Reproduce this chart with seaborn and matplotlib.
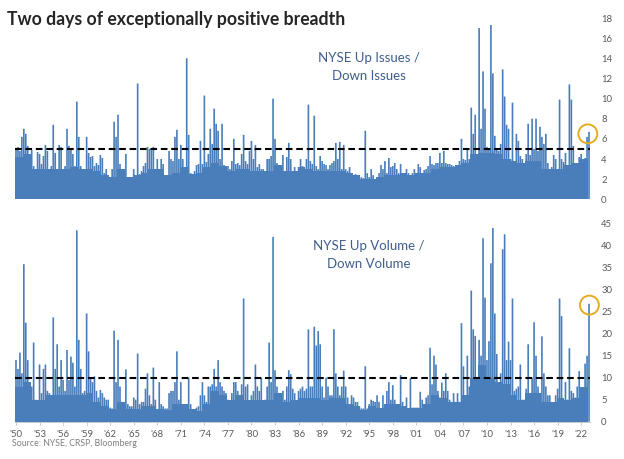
import matplotlib
matplotlib.use("Agg")
import matplotlib.pyplot as plt
import numpy as np
import pandas as pd
import seaborn as sns

W, H = 624, 459
title = "Two days of exceptionally positive breadth"
source = "Source: NYSE, CRSP, Bloomberg"
year_labels = ["'50","'53","'56","'59","'62","'65","'68","'71","'74","'77","'80","'83","'86",
               "'89","'92","'95","'98","'01","'04","'07","'10","'13","'16","'19","'22"]
issues_ticks = [0,2,4,6,8,10,12,14,16,18]
volume_ticks = [0,5,10,15,20,25,30,35,40,45]

# quarterly peaks, 1950 -> late 2022
up_issues = [
 5.0,5.2,4.8,6.2,7.0,6.5,5.3,4.2,4.9,3.3,2.3,4.7,
 4.5,3.5,4.3,5.4,4.8,2.8,3.3,7.4,4.6,3.0,5.4,5.2,
 3.0,3.3,7.0,5.3,4.9,4.5,3.3,9.7,6.2,3.3,3.0,2.8,
 6.2,4.6,4.2,4.3,3.3,3.6,3.4,4.4,4.1,2.6,3.0,2.2,
 2.0,3.0,7.7,6.2,8.4,3.5,2.4,2.2,4.5,2.1,2.0,2.2,
 3.0,2.4,11.5,2.5,2.8,3.3,3.6,5.2,5.0,5.0,5.2,3.0,
 4.0,2.9,4.0,3.5,2.2,2.4,4.8,4.0,3.8,6.2,6.9,4.0,
 5.4,4.0,2.4,14.0,6.4,2.6,2.3,2.8,3.4,3.5,5.8,3.5,
 10.3,3.7,4.5,7.0,5.5,9.0,7.5,6.8,4.0,7.5,3.4,3.0,
 3.3,3.0,3.8,6.0,3.5,3.6,3.4,4.5,6.4,3.8,3.5,4.8,
 5.8,4.0,5.4,3.2,3.5,3.0,3.0,2.8,4.0,4.0,4.3,10.0,
 6.0,3.6,2.9,3.0,4.4,2.4,4.2,5.6,4.0,2.8,3.2,2.5,
 3.2,4.0,3.3,2.8,4.0,9.4,3.8,3.5,8.3,3.3,3.0,4.3,
 3.8,3.5,3.4,3.0,3.4,3.6,3.8,5.6,4.0,5.7,3.0,5.4,
 3.0,2.8,3.2,2.5,2.2,2.5,2.2,2.0,2.2,2.1,6.8,2.6,
 2.2,3.0,2.4,2.0,2.0,2.6,3.4,3.0,3.8,2.6,4.1,3.2,
 3.3,3.6,3.0,2.6,3.5,2.4,2.0,3.0,2.6,2.4,2.6,3.0,
 1.8,3.5,3.2,2.6,2.9,3.0,3.3,4.3,3.5,3.4,3.6,3.6,
 4.6,3.6,4.8,3.6,3.5,3.5,3.4,3.3,3.2,3.0,3.8,6.0,
 4.0,3.9,4.9,4.0,9.1,6.5,8.4,4.0,17.0,7.0,12.7,9.0,
 5.2,5.0,17.3,12.5,6.3,5.0,4.8,5.5,12.9,10.2,7.4,7.0,
 4.0,9.6,3.5,6.5,5.8,4.3,4.0,3.3,4.5,7.5,4.4,8.0,
 5.0,8.0,4.8,7.2,6.2,5.5,6.5,3.6,3.0,3.2,4.4,4.0,
 2.9,9.9,4.0,3.7,4.6,3.4,11.4,9.9,5.3,3.0,3.6,4.2,
 4.5,4.0,4.1,6.2,6.7]

up_volume = [
 14,12,15.7,11,35.8,22.5,14,9,8,18,5,3.5,
 13,6.5,12,13,7,6.5,5.5,23.7,12,17.6,8,14,
 9.5,7,16.3,9.5,14.8,13.4,8,43.5,18.6,12,6.5,7,
 24.6,16,10,9,10.3,7,5.5,7.2,6.5,5.5,5,5,
 3.2,3,20.7,9,18.6,8,4.5,4,11.9,4,3.5,3.5,
 5.5,5,15.5,4,4.5,4.5,7.5,11,6,4,12.3,5,
 2.7,9,4,3.5,3,3,6.5,7,7,9,16,5,
 9,4,3,3.5,10,4,2.7,2.6,3.2,3.5,6,9,
 6,4.5,8,8,8.5,12,8,14,9,8,7,6.5,
 5,4,6.5,9,9,7,4.5,8.5,28,8,8.5,4.2,
 6,7,13,8,7,10,4,5,8,18,9,42,
 11.7,8,5,5,7,5,8,11.7,10.8,7.5,6.5,4,
 7,7.5,8,7,7.5,21,8,8,21.6,17.3,20.6,17.6,
 8,5.5,10,8,6,6,21,11,8,6,8,11.6,
 8,5.5,3.8,6,5.5,4.5,4.5,3.5,3,3,12.6,3,
 4,5,4.7,4.5,6,4.5,3,6,4,7,9,5,
 8.3,5,4,3.8,10.6,4.5,3,5.5,3,9.9,3.2,3.2,
 3.2,3.2,6.8,5,3.2,5.5,6,16.8,8.5,15,13,7,
 5.5,8.9,7,11,7,5,4,6.5,4.5,6.5,4.5,22.4,
 12.6,5,15,8,29.8,21,19.5,7,18.6,15,41.7,28.2,
 14,18.3,36,44,24.6,15.4,4,11,39.2,42.6,14,18.2,
 14,28,7,7.5,8,13,5,5,7.5,17.6,5.5,10,
 22.6,15,8,6,19.4,11,8,6,6,4.5,3.5,6,
 7.5,28,24,5,9,5,16.7,7,6.5,5.5,8,11.5,
 7.5,5.5,13.2,15,26.8]

# solid mass under the spikes, one level per calendar year 1950-2022
issues_body = [
 4.2,4.5,3.0,3.0,3.0,3.0,3.0,3.2,3.0,3.0,2.8,2.4,2.2,3.0,2.2,2.4,2.6,3.0,3.0,2.4,
 2.6,3.2,2.5,2.6,3.2,3.6,3.3,2.8,3.0,3.0,2.8,2.8,2.8,3.4,2.8,2.8,3.2,3.0,2.8,2.8,
 2.8,2.8,2.6,2.4,2.0,2.0,2.2,2.4,2.4,2.6,2.4,2.6,2.6,3.0,3.2,3.2,3.4,3.6,4.5,4.6,
 4.6,4.5,4.0,3.8,3.6,3.8,3.8,3.0,3.0,3.0,3.4,3.6,4.0]
volume_body = [
 8,9,5,5,6,6,6,6,6,6.5,4.5,3.5,3,4.5,3,3,3.5,3.5,2.8,2.6,
 4,4,3,2.5,4,7,6,5,6,5,5,5,5,6.5,4.5,5,5.5,5.5,5.5,5,
 5.5,5.5,4,3.5,2.6,3.5,3.2,4,4,3.5,3.2,3.2,4,6,5.5,4.5,4.5,6,10,13,
 10,9,8.5,6,5,6.5,6.5,4.5,4.5,5.5,5,5.5,8]

issues_threshold = 5
volume_threshold = 10
issues_mark = 6.5
volume_mark = 26.5

BLUE = "#4A7EBB"
GREY = "#595959"
TXT = "#3F5F8F"
RING = "#E5AC22"
FONT = "Lato"

sns.set_theme(style="white")
plt.rcParams["font.family"] = [FONT, "DejaVu Sans"]

fig = plt.figure(figsize=(W/100, H/100), dpi=100, facecolor="white")
L, R = 15, 590
def make_ax(top, bottom):
    return fig.add_axes([L/W, 1-bottom/H, (R-L)/W, (bottom-top)/H])
ax1 = make_ax(18, 199.3)
ax2 = make_ax(223.7, 421.7)

n = len(up_issues)
df = pd.DataFrame({"q": np.arange(n), "issues": up_issues, "volume": up_volume})
body = pd.DataFrame({"q": np.arange(len(issues_body))*4 + 1.5,
                     "issues": issues_body, "volume": volume_body})
for ax, col in ((ax1, "issues"), (ax2, "volume")):
    sns.barplot(data=df, x="q", y=col, ax=ax, native_scale=True, color=BLUE,
                width=0.85, saturation=1, linewidth=0, errorbar=None)
    for patch in ax.patches:
        patch.set_snap(False)
    n_spikes = len(ax.patches)
    sns.barplot(data=body, x="q", y=col, ax=ax, native_scale=True, color=BLUE,
                width=1.0, saturation=1, linewidth=0, errorbar=None)
    for patch in ax.patches[n_spikes:]:
        patch.set_zorder(3)

for ax, thr, mark, mx, ticks, ymax in ((ax1, issues_threshold, issues_mark, n-1.6, issues_ticks, 18),
                                       (ax2, volume_threshold, volume_mark, n-0.8, volume_ticks, 45)):
    ax.set_xlim(-0.5, n-0.5)
    ax.set_ylim(0, ymax)
    ax.axhline(thr, color="black", lw=1.5, ls=(0, (3.2, 1.8)), zorder=5)
    ax.scatter([mx], [mark], s=185, facecolor="none", edgecolor=RING, lw=1.4,
               clip_on=False, zorder=6)
    ax.set_xlabel(""); ax.set_ylabel("")
    ax.yaxis.tick_right()
    ax.set_yticks(ticks)
    ax.tick_params(axis="y", length=0, pad=8, labelsize=6.8, labelcolor=GREY)
    for s in ("top", "left", "right", "bottom"):
        ax.spines[s].set_visible(False)
    ax.patch.set_alpha(0)

ax1.set_xticks([])
ax2.spines["bottom"].set_visible(True)
ax2.spines["bottom"].set_color("#BFBFBF")
ax2.spines["bottom"].set_linewidth(0.6)
ax2.set_xticks(np.arange(len(year_labels))*12)
ax2.set_xticklabels(year_labels)
ax2.tick_params(axis="x", length=2.5, width=0.6, color="#BFBFBF", pad=3.5,
                labelsize=6.8, labelcolor=GREY, bottom=True)

def px(x, y, s, **k):
    fig.text(x/W, 1-y/H, s, **k)
px(7, 19, title, fontsize=12.7, fontweight="bold", color="#262626", ha="left", va="center")
px(369, 58, "NYSE Up Issues /", fontsize=9.5, color=TXT, ha="center", va="center")
px(369, 76, "Down Issues", fontsize=9.5, color=TXT, ha="center", va="center")
px(369, 246, "NYSE Up Volume /", fontsize=9.5, color=TXT, ha="center", va="center")
px(369, 264, "Down Volume", fontsize=9.5, color=TXT, ha="center", va="center")
px(12, 443, source, fontsize=6.3, color="#7F7F7F", ha="left", va="center")

fig.savefig("out.png", dpi=100, facecolor="white")
